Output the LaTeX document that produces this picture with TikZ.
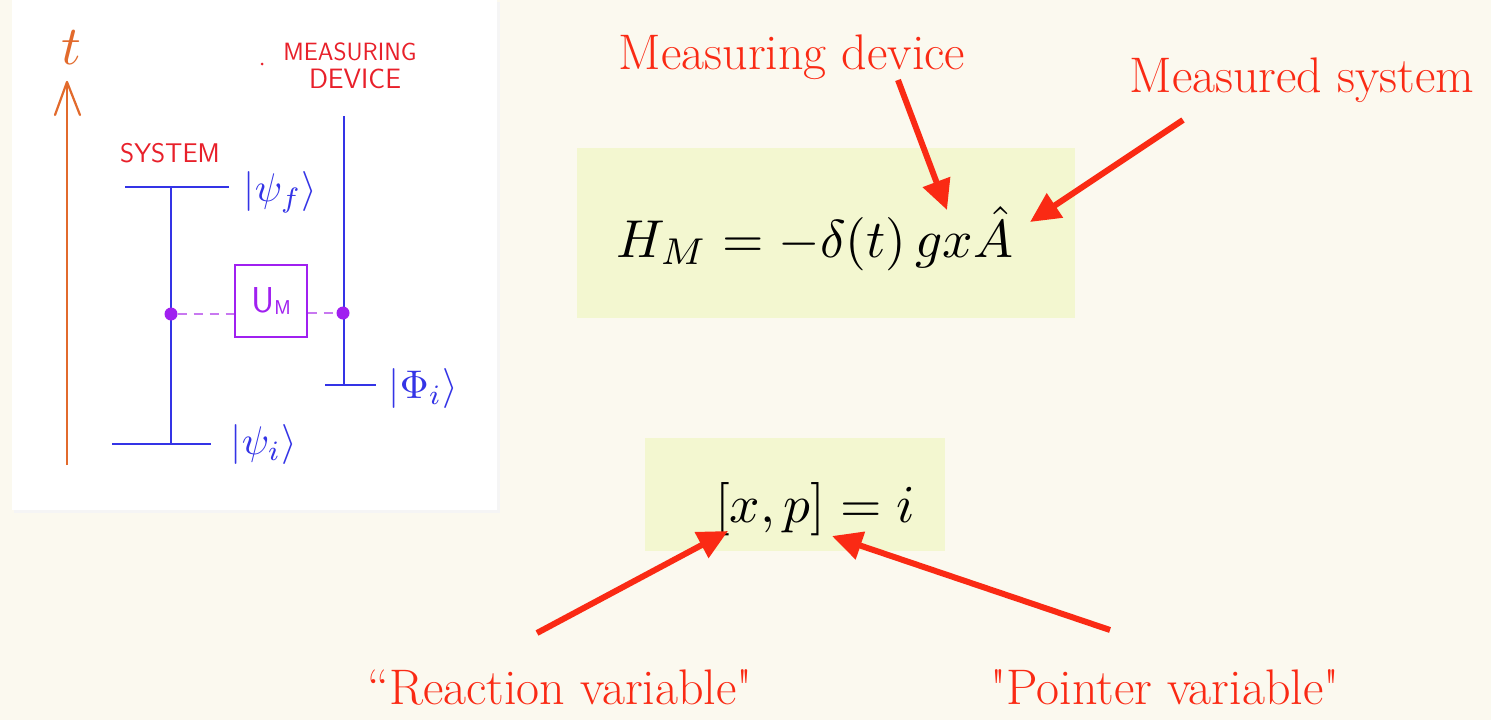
\documentclass[tikz,border=0pt]{standalone}
\usetikzlibrary{arrows.meta}
\definecolor{bgc}{HTML}{FBF9EF}
\definecolor{boxg}{HTML}{F3F7D0}
\definecolor{lblred}{HTML}{FA2A14}
\definecolor{hblue}{HTML}{3434E6}
\definecolor{hred}{HTML}{E8202A}
\definecolor{horange}{HTML}{E26A2C}
\definecolor{hpurp}{HTML}{A020F0}
\definecolor{hpurpl}{HTML}{C878F0}
\tikzset{
  redlbl/.style={text=lblred, font=\fontsize{50}{56}\selectfont, inner sep=0pt},
  redarrow/.style={draw=lblred, line width=6pt, -{Triangle[length=30pt,width=28pt]}},
  eqtext/.style={font=\fontsize{10}{12}\selectfont, inner sep=0pt, scale=5.33},
  hline/.style={draw=hblue, line width=2.4pt},
  ket/.style={text=hblue, font=\fontsize{10}{12}\selectfont, inner sep=0pt, scale=4},
  capslbl/.style={text=hred, inner sep=0pt},
  pdot/.style={circle, fill=hpurp, inner sep=0pt, minimum size=13pt},
  pdash/.style={draw=hpurpl, line width=2pt, dash pattern=on 9pt off 7pt},
}
\begin{document}
\begin{tikzpicture}[x=1pt,y=-1pt]
\useasboundingbox (0,0) rectangle (1491,720);
\fill[bgc] (0,0) rectangle (1491,720);
% white panel
\fill[black!4] (14,2) rectangle (500,513);
\fill[white] (12,0) rectangle (497,510);

% time axis
\coordinate (tbot) at (67,465);
\coordinate (ttop) at (67,82);
\draw[horange, line width=2.2pt] (tbot) -- (ttop);
\draw[horange, line width=2.2pt, line cap=round, line join=round] (55,115) -- (ttop) -- (80,115);
\node[text=horange, font=\fontsize{10}{12}\selectfont, inner sep=0pt, scale=5.5] (tlab) at (71,48) {$t$};

% labels
\node[capslbl, font=\sffamily\fontsize{27}{30}\selectfont] (syslab) at (170,153) {SYSTEM};
\node[capslbl, font=\sffamily\fontsize{25}{30}\selectfont] (mlab) at (350,52) {MEASURING};
\node[capslbl, font=\sffamily\fontsize{28}{30}\selectfont] (dlab) at (355,79) {DEVICE};
\fill[hred] (262,64) circle (1.5pt);

% system lines
\coordinate (sfl) at (125,187);
\coordinate (sfr) at (229,187);
\coordinate (sil) at (112,444);
\coordinate (sir) at (211,444);
\coordinate (stop) at (171,187);
\coordinate (sbot) at (171,444);
\draw[hline] (sfl) -- (sfr);
\draw[hline] (sil) -- (sir);
\draw[hline] (stop) -- (sbot);
\node[ket, anchor=west] (psif) at (243,192) {$|\psi_f\rangle$};
\node[ket, anchor=west] (psii) at (230,444) {$|\psi_i\rangle$};

% device lines
\coordinate (dtop) at (344,116);
\coordinate (dbot) at (344,385);
\coordinate (dil) at (325,385);
\coordinate (dir) at (376,385);
\draw[hline] (dtop) -- (dbot);
\draw[hline] (dil) -- (dir);
\node[ket, anchor=west] (phii) at (388,388) {$|\Phi_i\rangle$};

% interaction
\node[draw=hpurp, line width=1.6pt, minimum width=72pt, minimum height=72pt, inner sep=0pt,
      text=hpurp, font=\sffamily\fontsize{36}{40}\selectfont] (um) at (271,301) {U\raisebox{-2pt}{\fontsize{20}{22}\selectfont M}};
\node[pdot] (sdot) at (171,314) {};
\node[pdot] (ddot) at (343,313) {};
\draw[pdash] (sdot) -- (um.west |- sdot);
\draw[pdash] (um.east |- ddot) -- (ddot);

% equation boxes
\fill[boxg] (577,148) rectangle (1075,318);
\node[eqtext, anchor=base west] (eq1) at (615,257) {$H_M = -\delta(t)\,gx\hat{A}$};
\fill[boxg] (645,438) rectangle (945,551);
\node[eqtext, anchor=base west] (eq2) at (714,522) {$[x,p] = i$};

% red labels
\node[redlbl] (l1) at (792,57) {Measuring device};
\node[redlbl] (l2) at (1302,80) {Measured system};
\node[redlbl] (l3) at (560,687) {“Reaction variable\textquotedbl};
\node[redlbl] (l4) at (1165,687) {\textquotedbl Pointer variable\textquotedbl};

% arrows
\coordinate (a1s) at (898,80);
\coordinate (a1e) at (947,210);
\coordinate (a2s) at (1183,120);
\coordinate (a2e) at (1030,222);
\coordinate (a3s) at (537,633);
\coordinate (a3e) at (728,531);
\coordinate (a4s) at (1110,630);
\coordinate (a4e) at (832,536);
\draw[redarrow] (a1s) -- (a1e);
\draw[redarrow] (a2s) -- (a2e);
\draw[redarrow] (a3s) -- (a3e);
\draw[redarrow] (a4s) -- (a4e);
\end{tikzpicture}
\end{document}
